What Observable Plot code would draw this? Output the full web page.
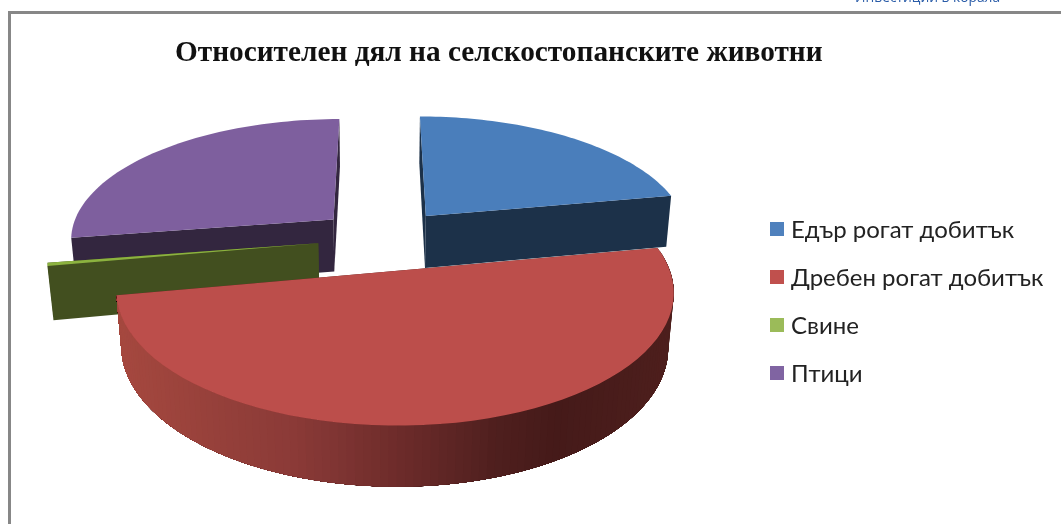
<!DOCTYPE html>
<html><head><meta charset="utf-8">
<script src="https://cdn.jsdelivr.net/npm/d3@7"></script>
<script src="https://cdn.jsdelivr.net/npm/@observablehq/plot@0.6"></script>
<style>
html,body{margin:0;padding:0;background:#fff;overflow:hidden}
#page{position:relative;width:1061px;height:524px;overflow:hidden;filter:blur(0.5px)}
#frameT{position:absolute;left:8px;top:11px;width:1053px;height:3px;background:#878787}
#frameL{position:absolute;left:8px;top:11px;width:3px;height:513px;background:#878787}
#top{position:absolute;left:855px;top:-10px;font:13.8px/14px "Open Sans",sans-serif;color:#2a5ca8;white-space:nowrap}
#title{position:absolute;left:175px;top:33px;font:bold 29.3px/36px "Liberation Serif",serif;color:#111;white-space:nowrap}
.leg{position:absolute;left:791px;font:24px/28px "Lato",sans-serif;color:#222;white-space:nowrap}
.sw{position:absolute;left:770px;width:14px;height:14px}
</style></head><body>
<div id="page">
<div id="frameT"></div><div id="frameL"></div>
<div id="top">Инвестиции в корала</div>
<div id="title">Относителен дял на селскостопанските животни</div>
<div id="chart" style="position:absolute;left:0;top:0"></div>
<div id="legend"></div>
</div>
<script>
const categories = ["Едър рогат добитък","Дребен рогат добитък","Свине","Птици"];
const shares = [22.1,50,0.4,27.5];
const topColors = ["#4a7ebb","#bc4e4b","#8cb23f","#7e5f9e"];
const wallColors = ["#1c3149","#4e1f1d","#424f1f","#33263f"];
const legendColors = ["#4f81bd","#c0504d","#9bbb59","#8064a2"];
const startAngle = 0;
const offsetX = [0.18,0.055,-0.23,-0.178];
const offsetZ = [-0.2,0.25,0.03,-0.17];
const cx=379, cy=239, Rx=265, Ry=121, H=54, k=0.15, m=0.018;

function project(X,Z,D){
  const s=1/(1-k*Z+m*D);
  return [cx+Rx*X*s, cy+(Ry*Z+H*D)*s];
}
const rad=d=>d*Math.PI/180;
let acc=startAngle;
const slices=shares.map((v,i)=>{const a0=acc,a1=acc+v*3.6;acc=a1;
  return {i,a0,a1,ox:offsetX[i],oz:offsetZ[i]};});
const rimPt=(sl,a,D)=>project(sl.ox+Math.sin(rad(a)),sl.oz-Math.cos(rad(a)),D);
const apex=(sl,D)=>project(sl.ox,sl.oz,D);
const polys=[];let pid=0;
function add(pts,color){const id=pid++;pts.forEach(p=>polys.push({id,x:p[0],y:p[1],color}));}
const arc=(sl,a0,a1,D)=>d3.range(0,61).map(j=>rimPt(sl,a0+(a1-a0)*j/60,D));
const shade=d3.scaleLinear().domain([120,300,400,500,560,680]).range(["#a5483f","#8a3a37","#6e2c2b","#4f1f1e","#451a19","#4e1f1d"]);
function drawSlice(sl){
  const w=wallColors[sl.i];
  add([apex(sl,0),rimPt(sl,sl.a0,0),rimPt(sl,sl.a0,1),apex(sl,1)],w);
  add([apex(sl,0),rimPt(sl,sl.a1,0),rimPt(sl,sl.a1,1),apex(sl,1)],w);
  if(sl.i===1){
    const n=120, step=(sl.a1-sl.a0)/n;
    for(let j=0;j<n;j++){
      const a=sl.a0+step*j, b=sl.a1;
      const p=[...arc(sl,a,b,0),...arc(sl,a,b,1).reverse()];
      add(p,d3.color(shade(rimPt(sl,a,0)[0])).formatHex());
    }
  }
  add([apex(sl,0),...arc(sl,sl.a0,sl.a1,0)],topColors[sl.i]);
}
[3,0,2,1].forEach(i=>drawSlice(slices[i]));

const plot=Plot.plot({width:1061,height:524,margin:0,
  x:{domain:[0,1061],range:[0,1061],axis:null},
  y:{domain:[0,524],range:[0,524],axis:null},
  color:{type:"identity"},
  style:{background:"transparent"},
  marks:[Plot.line(polys,{x:"x",y:"y",z:"id",fill:"color",stroke:"none"})]});
document.getElementById("chart").append(plot);
const lg=document.getElementById("legend");
categories.forEach((c,i)=>{const y=229+48*i;
  const s=document.createElement("div");s.className="sw";s.style.top=(y-7)+"px";s.style.background=legendColors[i];lg.append(s);
  const t=document.createElement("div");t.className="leg";t.style.top=(y-14)+"px";t.textContent=c;lg.append(t);});
</script></body></html>
